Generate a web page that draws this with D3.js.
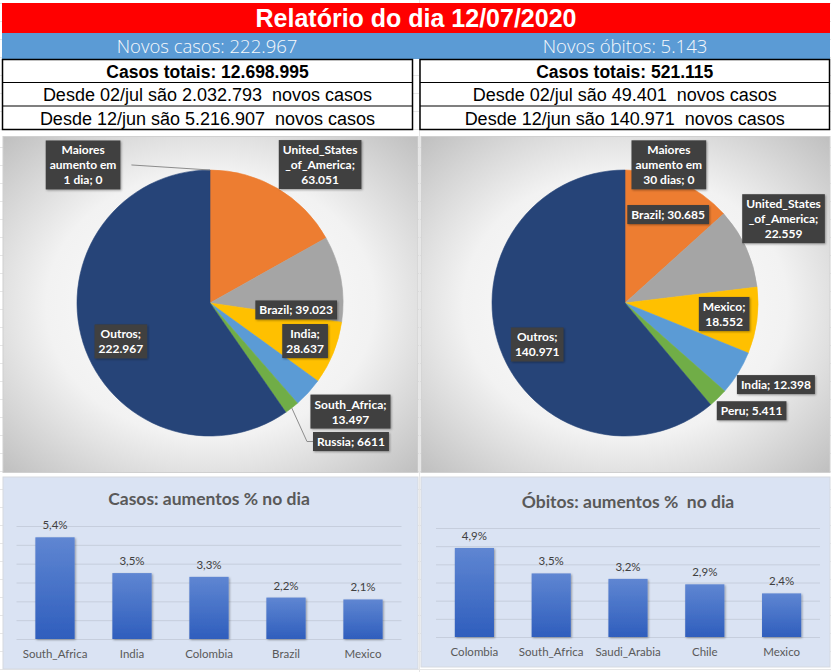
<!DOCTYPE html>
<html>
<head>
<meta charset="utf-8">
<script src="https://cdn.jsdelivr.net/npm/d3@7"></script>
<style>
  body { margin: 0; background: #fff; }
  svg { display: block; }
  svg text { white-space: pre; }
</style>
</head>
<body>
<div id="chart"></div>
<script>
// ---- data ----
const reportDate = "12/07/2020";
const newCasesText = "Novos casos: 222.967";
const newDeathsText = "Novos óbitos: 5.143";
const casesTableRows = ["Casos totais: 12.698.995", "Desde 02/jul são 2.032.793  novos casos", "Desde 12/jun são 5.216.907  novos casos"];
const deathsTableRows = ["Casos totais: 521.115", "Desde 02/jul são 49.401  novos casos", "Desde 12/jun são 140.971  novos casos"];

const casesPieCategories = ["Maiores aumento em 1 dia", "United_States_of_America", "Brazil", "India", "South_Africa", "Russia", "Outros"];
const casesPieValues = [0, 63051, 39023, 28637, 13497, 6611, 222967];
const deathsPieCategories = ["Maiores aumento em 30 dias", "Brazil", "United_States_of_America", "Mexico", "India", "Peru", "Outros"];
const deathsPieValues = [0, 30685, 22559, 18552, 12398, 5411, 140971];
const ungroupedLabels = ["Russia"];   // excel showed this one without thousand separator

const casesBarTitle = "Casos: aumentos % no dia";
const casesBarCategories = ["South_Africa", "India", "Colombia", "Brazil", "Mexico"];
const casesBarValues = [5.4, 3.5, 3.3, 2.2, 2.1];
const deathsBarTitle = "Óbitos: aumentos %  no dia";
const deathsBarCategories = ["Colombia", "South_Africa", "Saudi_Arabia", "Chile", "Mexico"];
const deathsBarValues = [4.9, 3.5, 3.2, 2.9, 2.4];
const barTicks = [0, 1, 2, 3, 4, 5, 6];

// ---- layout ----
const W = 831, H = 672;
const sliceColors = ["#4472C4", "#ED7D31", "#A5A5A5", "#FFC000", "#5B9BD5", "#70AD47", "#264478"];
// label spot: [distance / radius, angle in degrees], wrap width, leader type
const casesLabelSpots = [[1.41, 317.4, 70, "start"], [1.33, 38.5, 80], [0.65, 94.6, 200], [0.77, 111.8, 45], [1.335, 127.7, 80], [1.486, 134.5, 200, "elbow"], [0.73, 246.7, 50]];
const deathsLabelSpots = [[1.09, 17.6, 70], [0.74, 26, 200], [1.35, 62, 80], [0.75, 96.3, 50], [1.29, 118.4, 200], [1.25, 130.4, 200], [0.73, 244.7, 50]];

const svg = d3.select("#chart").append("svg").attr("width", W).attr("height", H);
const defs = svg.append("defs");

const bgGrad = defs.append("radialGradient").attr("id", "pieBg").attr("cx", "50%").attr("cy", "50%").attr("r", "72%");
bgGrad.append("stop").attr("offset", "0%").attr("stop-color", "#ffffff");
bgGrad.append("stop").attr("offset", "55%").attr("stop-color", "#f2f2f2");
bgGrad.append("stop").attr("offset", "100%").attr("stop-color", "#bdbdbd");

const barGrad = defs.append("linearGradient").attr("id", "barFill").attr("x1", 0).attr("y1", 0).attr("x2", 0).attr("y2", 1);
barGrad.append("stop").attr("offset", "0%").attr("stop-color", "#5f86d2");
barGrad.append("stop").attr("offset", "100%").attr("stop-color", "#2f5ebd");

const shadow = defs.append("filter").attr("id", "soft").attr("x", "-20%").attr("y", "-20%").attr("width", "140%").attr("height", "140%");
shadow.append("feDropShadow").attr("dx", 1).attr("dy", 1).attr("stdDeviation", 1.2).attr("flood-color", "#000").attr("flood-opacity", 0.35);

// faint spreadsheet grid behind everything
const sheet = svg.append("g").attr("stroke", "#e6e6e6").attr("stroke-width", 1);
d3.range(3, H, 18).forEach(y => sheet.append("line").attr("x1", 0).attr("x2", W).attr("y1", y + 0.5).attr("y2", y + 0.5));
sheet.append("line").attr("x1", 419.5).attr("x2", 419.5).attr("y1", 0).attr("y2", H);

// ---- header ----
svg.append("rect").attr("x", 2).attr("y", 3).attr("width", 828).attr("height", 30).attr("fill", "#ff0000");
svg.append("text").attr("x", 416).attr("y", 27).attr("text-anchor", "middle")
    .attr("font-family", "Liberation Sans, Arial, sans-serif").attr("font-weight", "bold")
    .attr("font-size", 25).attr("fill", "#fff").text(`Relatório do dia ${reportDate}`);

svg.append("rect").attr("x", 2).attr("y", 33).attr("width", 828).attr("height", 26).attr("fill", "#5b9bd5");
[[207, newCasesText], [625, newDeathsText]].forEach(([cx, t]) => {
    svg.append("text").attr("x", cx).attr("y", 53).attr("text-anchor", "middle")
        .attr("font-family", "Open Sans, sans-serif").attr("font-weight", 300)
        .attr("font-size", 18.5).attr("fill", "#f7f9fc").text(t);
});

function drawTable(x0, x1, rows) {
    const ys = [59.5, 82.5, 106, 129.5];
    const g = svg.append("g");
    g.append("rect").attr("x", x0).attr("y", ys[0]).attr("width", x1 - x0).attr("height", ys[3] - ys[0])
        .attr("fill", "#fff").attr("stroke", "#000").attr("stroke-width", 1.5);
    [ys[1], ys[2]].forEach(y => g.append("line").attr("x1", x0).attr("x2", x1).attr("y1", y).attr("y2", y)
        .attr("stroke", "#000").attr("stroke-width", 1.2));
    rows.forEach((t, i) => {
        g.append("text").attr("x", (x0 + x1) / 2).attr("y", ys[i] + 18.5).attr("text-anchor", "middle")
            .attr("font-family", "Liberation Sans, Arial, sans-serif")
            .attr("font-weight", i === 0 ? "bold" : "normal")
            .attr("font-size", i === 0 ? 17.5 : 18).attr("fill", "#000").text(t);
    });
}
drawTable(2.5, 412.5, casesTableRows);
drawTable(420, 829.5, deathsTableRows);

// ---- pies ----
const fmtNum = d3.formatLocale({ decimal: ",", thousands: ".", grouping: [3], currency: ["", ""] }).format(",d");
const measurer = svg.append("text").attr("font-family", "Lato, sans-serif").attr("font-weight", "bold")
    .attr("font-size", 12).attr("visibility", "hidden");
function textWidth(s) { measurer.text(s); return measurer.node().getComputedTextLength(); }

function wrapLabel(text, maxW) {
    const toks = [];
    text.split(" ").forEach((w, wi) => {
        w.split(/(?=_)/).forEach((p, pi) => toks.push({ t: p, sp: wi > 0 && pi === 0 }));
    });
    const lines = [];
    let line = toks[0].t;
    toks.slice(1).forEach(k => {
        const cand = line + (k.sp ? " " : "") + k.t;
        if (textWidth(cand) <= maxW) line = cand;
        else { lines.push(line); line = k.t; }
    });
    lines.push(line);
    return lines;
}

function drawPie(panel, cats, vals, spots) {
    const g = svg.append("g");
    g.append("rect").attr("x", panel.x).attr("y", panel.y).attr("width", panel.w).attr("height", panel.h)
        .attr("fill", "url(#pieBg)").attr("stroke", "#d0d0d0");
    const cx = panel.cx, cy = panel.cy, r = panel.r;
    const data = cats.map((c, i) => ({ name: c, value: vals[i], color: sliceColors[i], spot: spots[i] }));
    const arcs = d3.pie().sort(null).value(d => d.value)(data);
    const arc = d3.arc().innerRadius(0).outerRadius(r);
    const pg = g.append("g").attr("transform", `translate(${cx},${cy})`);
    pg.selectAll("path").data(arcs).join("path").attr("d", arc)
        .attr("fill", d => d.data.color).attr("stroke", d => d.data.color).attr("stroke-width", 0.6);

    const polar = (dist, deg) => [cx + dist * Math.sin(deg * Math.PI / 180), cy - dist * Math.cos(deg * Math.PI / 180)];
    const lg = g.append("g");
    arcs.forEach(a => {
        const d = a.data;
        const valTxt = ungroupedLabels.includes(d.name) ? String(d.value) : fmtNum(d.value);
        const lines = wrapLabel(`${d.name}; ${valTxt}`, d.spot[2]);
        const bw = d3.max(lines, textWidth) + 8, bh = lines.length * 15 + 4;
        const [lx, ly] = polar(d.spot[0] * r, d.spot[1]);
        const bx = lx - bw / 2, by = ly - bh / 2;
        if (d.spot[3] === "start") {
            const [px, py] = polar(r, a.startAngle * 180 / Math.PI);
            lg.append("line").attr("x1", bx + bw + 11).attr("y1", ly).attr("x2", px).attr("y2", py)
                .attr("stroke", "#8c8c8c").attr("stroke-width", 1);
        } else if (d.spot[3] === "elbow") {
            const mid = (a.startAngle + a.endAngle) / 2 * 180 / Math.PI;
            const [px, py] = polar(r, mid);
            lg.append("polyline").attr("points", `${px},${py} ${bx - 6},${ly} ${bx},${ly}`)
                .attr("fill", "none").attr("stroke", "#8c8c8c").attr("stroke-width", 1);
        }
        lg.append("rect").attr("x", bx).attr("y", by).attr("width", bw).attr("height", bh)
            .attr("fill", "#3f3f3f").attr("filter", "url(#soft)");
        const t = lg.append("text").attr("font-family", "Lato, sans-serif").attr("font-weight", "bold")
            .attr("font-size", 12).attr("fill", "#fff").attr("text-anchor", "middle");
        lines.forEach((s, i) => t.append("tspan").attr("x", lx).attr("y", by + 14 + i * 15).text(s));
    });
}
drawPie({ x: 3, y: 136.5, w: 415, h: 336, cx: 210, cy: 303, r: 133 }, casesPieCategories, casesPieValues, casesLabelSpots);
drawPie({ x: 421, y: 136.5, w: 409, h: 336, cx: 625, cy: 303, r: 133 }, deathsPieCategories, deathsPieValues, deathsLabelSpots);

// ---- bars ----
function drawBars(panel, title, cats, vals) {
    const g = svg.append("g");
    g.append("rect").attr("x", panel.x).attr("y", panel.y).attr("width", panel.w).attr("height", panel.h)
        .attr("fill", "#dae3f3").attr("stroke", "#d5d9e0");
    g.append("text").attr("x", (panel.x0 + panel.x1) / 2).attr("y", panel.titleY).attr("text-anchor", "middle")
        .attr("font-family", "Lato, sans-serif").attr("font-weight", "bold").attr("font-size", 17.5)
        .attr("fill", "#595959").text(title);

    const x = d3.scaleBand().domain(cats).range([panel.x0, panel.x1]).paddingInner(0.49).paddingOuter(0.245);
    const y = d3.scaleLinear().domain([0, 6]).range([panel.base, panel.top]);

    g.append("g").attr("transform", `translate(${panel.x0},0)`)
        .call(d3.axisLeft(y).tickValues(barTicks).tickSize(-(panel.x1 - panel.x0)).tickFormat(""))
        .call(a => a.select(".domain").remove())
        .call(a => a.selectAll("line").attr("stroke", "#c6cedd"));

    g.append("g").selectAll("rect").data(vals).join("rect")
        .attr("x", (d, i) => x(cats[i])).attr("width", x.bandwidth())
        .attr("y", d => y(d)).attr("height", d => y(0) - y(d))
        .attr("fill", "url(#barFill)").attr("filter", "url(#soft)");

    const pct = d3.formatLocale({ decimal: ",", thousands: ".", grouping: [3], currency: ["", ""] }).format(".1f");
    g.append("g").selectAll("text").data(vals).join("text")
        .attr("x", (d, i) => x(cats[i]) + x.bandwidth() / 2).attr("y", d => y(d) - 8)
        .attr("text-anchor", "middle").attr("font-family", "Lato, sans-serif").attr("font-size", 11.5)
        .attr("fill", "#404040").text(d => pct(d) + "%");

    g.append("g").attr("transform", `translate(0,${panel.base})`)
        .call(d3.axisBottom(x).tickSize(0).tickPadding(11))
        .call(a => a.select(".domain").remove())
        .call(a => a.selectAll("text").attr("font-family", "Lato, sans-serif").attr("font-size", 11.5).attr("fill", "#595959"));
}
drawBars({ x: 3, y: 477, w: 415, h: 192, x0: 16.5, x1: 401.5, top: 526, base: 639, titleY: 505 }, casesBarTitle, casesBarCategories, casesBarValues);
drawBars({ x: 421, y: 477, w: 409, h: 190, x0: 436, x1: 820, top: 528, base: 637, titleY: 508 }, deathsBarTitle, deathsBarCategories, deathsBarValues);
</script>
</body>
</html>
